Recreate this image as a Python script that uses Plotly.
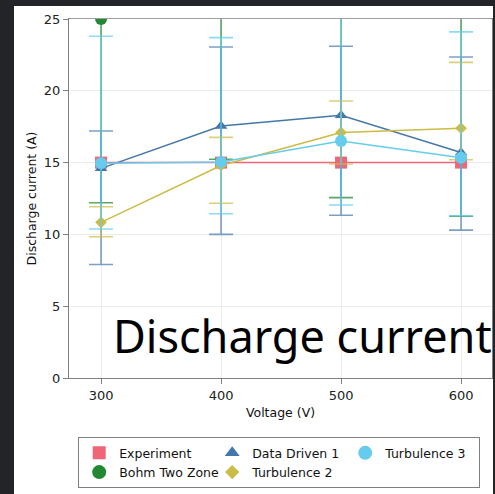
import plotly.graph_objects as go

voltage = [300, 400, 500, 600]

experiment = [15.0, 15.0, 15.0, 15.0]

bohm = [25.0, 30.0, 29.0, 28.0]
bohm_lo = [12.2, 15.23, 12.56, 11.26]
bohm_hi = [37.8, 44.8, 45.4, 44.7]

dd1 = [14.6, 17.55, 18.3, 15.7]
dd1_lo = [7.9, 10.0, 11.33, 10.3]
dd1_hi = [17.2, 23.05, 23.1, 22.35]

turb2 = [10.84, 14.8, 17.1, 17.4]
turb2_lo = [9.84, 12.17, 14.9, 15.2]
turb2_hi = [11.93, 16.76, 19.29, 21.98]

turb3 = [14.95, 15.05, 16.5, 15.34]
turb3_lo = [10.38, 11.44, 12.05, 11.3]
turb3_hi = [23.8, 23.7, 26.5, 24.1]

series = [
    ("Experiment", experiment, None, None, "#EE6677", "rgba(238,102,119,0.7)", "square", 12, 1),
    ("Bohm Two Zone", bohm, bohm_lo, bohm_hi, "#228833", "rgba(34,136,51,0.75)", "circle", 12, 4),
    ("Data Driven 1", dd1, dd1_lo, dd1_hi, "#4477AA", "rgba(68,119,170,0.7)", "triangle-up", 11, 2),
    ("Turbulence 2", turb2, turb2_lo, turb2_hi, "#CCBB44", "rgba(204,187,68,0.7)", "diamond", 9, 5),
    ("Turbulence 3", turb3, turb3_lo, turb3_hi, "#66CCEE", "rgba(102,204,238,0.75)", "circle", 12, 3),
]

legend_sizes = {"square": 13, "circle": 14, "triangle-up": 13, "diamond": 11}

fig = go.Figure()
for name, vals, lo, hi, col, ecol, sym, size, rank in series:
    kw = {}
    if lo is not None:
        kw["error_y"] = dict(
            type="data",
            symmetric=False,
            array=[h - v for h, v in zip(hi, vals)],
            arrayminus=[v - l for v, l in zip(vals, lo)],
            color=ecol,
            thickness=1.6,
            width=12,
        )
    fig.add_trace(go.Scatter(
        x=voltage, y=vals, name=name, mode="lines+markers",
        line=dict(color=col, width=1.5),
        marker=dict(color=col, symbol=sym, size=size),
        showlegend=False,
        **kw,
    ))

# legend-only entries (marker symbols, as in the reference legend)
for name, vals, lo, hi, col, ecol, sym, size, rank in series:
    fig.add_trace(go.Scatter(
        x=[None], y=[None], name=name, mode="markers",
        marker=dict(color=col, symbol=sym, size=legend_sizes[sym]),
        legendrank=rank, hoverinfo="skip",
    ))

W, H = 495, 494
L, R, T, B = 69, 492, 19, 378
pw, ph = R - L, B - T

def px(x):
    return (x - L) / pw

def py(y):
    return (B - y) / ph

fig.add_shape(type="rect", xref="paper", yref="paper",
              x0=px(14), x1=px(493), y0=py(494), y1=py(6),
              fillcolor="white", line=dict(width=0), layer="below")
# white mask above the plot frame so markers at the top edge appear clipped
fig.add_shape(type="rect", xref="x domain", yref="y domain",
              x0=0.003, x1=0.997, y0=1.002, y1=1.036,
              fillcolor="white", line=dict(width=0), layer="above")

fig.add_annotation(text="Discharge current", xref="paper", yref="paper",
                   x=px(111), y=py(335), xanchor="left", yanchor="middle",
                   showarrow=False,
                   font=dict(family="Noto Sans, Open Sans, sans-serif", size=45, color="black"))

axis_common = dict(
    showline=True, linecolor="#7f7f7f", linewidth=1.2, mirror=True,
    ticks="outside", ticklen=5, tickcolor="#7f7f7f",
    showgrid=True, gridcolor="#ebebeb", gridwidth=1,
    zeroline=False,
    tickfont=dict(family="DejaVu Sans", size=13, color="#222"),
)

fig.update_xaxes(range=[273.3, 625.8], tickvals=voltage,
                 title=dict(text="Voltage (V)", font=dict(family="DejaVu Sans", size=12.5, color="#111"), standoff=6),
                 **axis_common)
fig.update_yaxes(range=[0, 25], tickvals=[0, 5, 10, 15, 20, 25],
                 title=dict(text="Discharge current (A)", font=dict(family="DejaVu Sans", size=12.5, color="#111"), standoff=4),
                 **axis_common)

fig.update_layout(
    width=W, height=H,
    margin=dict(l=L, r=W - R, t=T, b=H - B, autoexpand=False),
    paper_bgcolor="#222428",
    plot_bgcolor="white",
    showlegend=True,
    hovermode=False,
    legend=dict(
        orientation="h", x=px(78), y=py(437), xanchor="left", yanchor="top",
        bgcolor="white", bordercolor="#7f7f7f", borderwidth=1.2,
        font=dict(family="DejaVu Sans", size=12.5, color="#111"),
        entrywidth=88, entrywidthmode="pixels", itemwidth=30,
        traceorder="normal",
    ),
)

fig.write_html(
    "out.html",
    config={"displayModeBar": False},
    post_script="document.body.style.margin='0';document.body.style.background='#222428';document.body.style.overflow='hidden';",
)
